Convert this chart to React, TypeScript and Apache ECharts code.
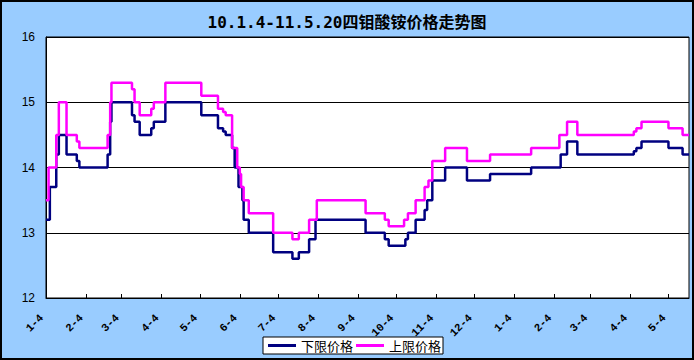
import React, { useEffect, useRef } from "react";
import * as echarts from "echarts";

const TITLE = "10.1.4-11.5.20四钼酸铵价格走势图";
const SERIES_NAMES = ["下限价格", "上限价格"];
const SERIES_COLORS = ["#000080", "#FF00FF"];

const X_START = "2010-01-04";
const X_END = "2011-05-20";
const TICK_DATES = [
  "2010-01-04", "2010-02-04", "2010-03-04", "2010-04-04", "2010-05-04", "2010-06-04",
  "2010-07-04", "2010-08-04", "2010-09-04", "2010-10-04", "2010-11-04", "2010-12-04",
  "2011-01-04", "2011-02-04", "2011-03-04", "2011-04-04", "2011-05-04",
];

// 下限价格 (change points: date on which the value starts)
const lowerDates = [
  "2010-01-04", "2010-01-07", "2010-01-12", "2010-01-14", "2010-01-20", "2010-01-28",
  "2010-01-30", "2010-02-21", "2010-02-23", "2010-02-24", "2010-03-12", "2010-03-14",
  "2010-03-18", "2010-03-27", "2010-03-29", "2010-04-07", "2010-05-05", "2010-05-18",
  "2010-05-22", "2010-05-24", "2010-05-29", "2010-05-31", "2010-06-03", "2010-06-06",
  "2010-06-07", "2010-06-11", "2010-06-30", "2010-07-15", "2010-07-20", "2010-07-28",
  "2010-08-02", "2010-09-10", "2010-09-25", "2010-09-28", "2010-10-11", "2010-10-13",
  "2010-10-19", "2010-10-26", "2010-10-28", "2010-11-01", "2010-11-11", "2010-11-28",
  "2010-12-16", "2011-01-17", "2011-02-09", "2011-02-14", "2011-02-22", "2011-04-07",
  "2011-04-09", "2011-04-13", "2011-05-04", "2011-05-15", "2011-05-20",
];
const lowerValues = [
  13.2, 13.7, 14.2, 14.5, 14.2, 14.1,
  14.0, 14.2, 14.7, 15.0, 14.8, 14.7,
  14.5, 14.6, 14.7, 15.0, 14.8, 14.6,
  14.55, 14.5, 14.3, 14.0, 13.7, 13.5,
  13.2, 13.0, 12.7, 12.6, 12.7, 12.9,
  13.2, 13.0, 12.9, 12.8, 12.9, 13.0,
  13.2, 13.35, 13.5, 13.8, 14.0, 13.8,
  13.9, 14.0, 14.2, 14.4, 14.2, 14.25,
  14.3, 14.4, 14.3, 14.2, 14.2,
];

// 上限价格
const upperDates = [
  "2010-01-04", "2010-01-06", "2010-01-12", "2010-01-14", "2010-01-20", "2010-01-28",
  "2010-01-30", "2010-02-21", "2010-02-23", "2010-02-24", "2010-03-12", "2010-03-14",
  "2010-03-18", "2010-03-27", "2010-03-29", "2010-04-07", "2010-05-05", "2010-05-18",
  "2010-05-22", "2010-05-24", "2010-05-29", "2010-06-02", "2010-06-04", "2010-06-05",
  "2010-06-07", "2010-06-11", "2010-06-30", "2010-07-15", "2010-07-20", "2010-07-28",
  "2010-08-03", "2010-09-10", "2010-09-25", "2010-09-28", "2010-10-10", "2010-10-13",
  "2010-10-19", "2010-10-26", "2010-10-29", "2010-11-01", "2010-11-11", "2010-11-28",
  "2010-12-16", "2011-01-17", "2011-02-08", "2011-02-14", "2011-02-22", "2011-04-07",
  "2011-04-09", "2011-04-13", "2011-05-04", "2011-05-15", "2011-05-20",
];
const upperValues = [
  13.5, 14.0, 14.5, 15.0, 14.5, 14.4,
  14.3, 14.5, 15.0, 15.3, 15.2, 15.0,
  14.8, 14.9, 15.0, 15.3, 15.1, 14.9,
  14.85, 14.8, 14.3, 14.0, 13.9, 13.7,
  13.5, 13.3, 13.0, 12.9, 13.0, 13.2,
  13.5, 13.3, 13.2, 13.1, 13.2, 13.3,
  13.5, 13.7, 13.8, 14.1, 14.3, 14.1,
  14.2, 14.3, 14.5, 14.7, 14.5, 14.55,
  14.6, 14.7, 14.6, 14.5, 14.5,
];

const Y_MIN = 12;
const Y_MAX = 16;
const Y_INTERVAL = 1;

const DAY = 86400000;
function utc(s: string): number {
  const [y, m, d] = s.split("-").map(Number);
  return Date.UTC(y, m - 1, d);
}
const BASE = utc(X_START);
function dayIndex(s: string): number {
  return Math.round((utc(s) - BASE) / DAY);
}
function dayLabel(v: number): string {
  const d = new Date(BASE + Math.round(v) * DAY);
  return `${d.getUTCMonth() + 1}-${d.getUTCDate()}`;
}

export default function App() {
  const ref = useRef<HTMLDivElement>(null);

  useEffect(() => {
    document.body.style.margin = "0";
    if (!ref.current) return;
    const chart = echarts.init(ref.current, undefined, { renderer: "svg" });
    const ticks = TICK_DATES.map(dayIndex);
    const mk = (dates: string[], vals: number[]) => dates.map((d, i) => [dayIndex(d), vals[i]]);
    chart.setOption({
      animation: false,
      backgroundColor: "#99CCFF",
      title: {
        text: TITLE,
        left: "center",
        top: 9,
        textStyle: {
          fontFamily: "'DejaVu Sans Mono', 'Noto Sans CJK SC', monospace",
          fontSize: 16,
          fontWeight: "bold",
          color: "#000",
        },
      },
      grid: {
        left: 46,
        right: 5,
        top: 37,
        bottom: 62,
        show: true,
        backgroundColor: "#fff",
        borderColor: "#000",
        borderWidth: 1,
        containLabel: false,
      },
      legend: {
        left: 263,
        top: 337,
        orient: "horizontal",
        backgroundColor: "#fff",
        borderColor: "#000",
        borderWidth: 1,
        borderRadius: 0,
        padding: [2, 2, 2, 5],
        itemGap: 3,
        itemWidth: 28,
        itemHeight: 3,
        icon: "rect",
        textStyle: {
          fontFamily: "'Noto Sans CJK SC', sans-serif",
          fontSize: 13,
          color: "#000",
        },
        data: SERIES_NAMES,
      },
      xAxis: {
        type: "value",
        min: dayIndex(X_START),
        max: dayIndex(X_END),
        axisLine: { show: true, lineStyle: { color: "#000", width: 1 } },
        axisTick: {
          show: true,
          inside: true,
          length: 4,
          customValues: ticks,
          lineStyle: { color: "#000" },
        },
        axisLabel: {
          customValues: ticks,
          rotate: 45,
          margin: 14,
          padding: [0, 6, 0, 0],
          fontFamily: "'Liberation Mono', 'DejaVu Sans Mono', monospace",
          fontSize: 11,
          fontWeight: "bold",
          color: "#000",
          formatter: (v: number) => dayLabel(v),
        },
        splitLine: { show: false },
      },
      yAxis: {
        type: "value",
        min: Y_MIN,
        max: Y_MAX,
        interval: Y_INTERVAL,
        axisLine: { show: true, lineStyle: { color: "#000" } },
        axisTick: { show: false },
        axisLabel: {
          margin: 11,
          fontFamily: "'Liberation Sans', Arial, sans-serif",
          fontSize: 12,
          color: "#000",
        },
        splitLine: { show: true, lineStyle: { color: "#000", width: 1, type: "solid" } },
      },
      graphic: [
        {
          type: "rect",
          shape: { x: 1, y: 1, width: 692, height: 358 },
          style: { fill: "none", stroke: "#000", lineWidth: 2 },
          silent: true,
        },
      ],
      series: [
        {
          name: SERIES_NAMES[0],
          type: "line",
          step: "end",
          showSymbol: false,
          data: mk(lowerDates, lowerValues),
          itemStyle: { color: SERIES_COLORS[0] },
          lineStyle: { color: SERIES_COLORS[0], width: 2.5 },
        },
        {
          name: SERIES_NAMES[1],
          type: "line",
          step: "end",
          showSymbol: false,
          data: mk(upperDates, upperValues),
          itemStyle: { color: SERIES_COLORS[1] },
          lineStyle: { color: SERIES_COLORS[1], width: 2.5 },
        },
      ],
    });
    return () => chart.dispose();
  }, []);

  return (
    <div
      ref={ref}
      style={{ position: "absolute", left: 0, top: 0, width: 694, height: 360 }}
    />
  );
}
